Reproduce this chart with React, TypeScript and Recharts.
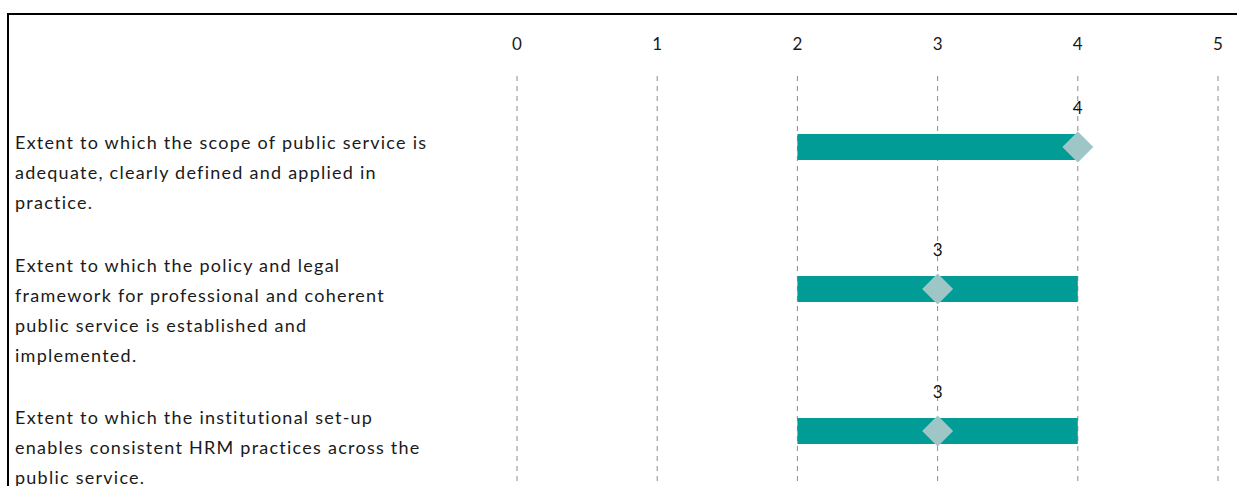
import React from "react";
import { ComposedChart, Bar, Line, XAxis, YAxis, CartesianGrid, LabelList } from "recharts";

const categories = ["scope", "framework", "institutional"];
const categoryLines: string[][] = [
  ["Extent to which the scope of public service is", "adequate, clearly defined and applied in", "practice."],
  ["Extent to which the policy and legal", "framework for professional and coherent", "public service is established and", "implemented."],
  ["Extent to which the institutional set-up", "enables consistent HRM practices across the", "public service."],
];
const rangeLow = [2, 2, 2];
const rangeHigh = [4, 4, 4];
const scores = [4, 3, 3];
const xTicks = [0, 1, 2, 3, 4, 5];

const data = categories.map((c, i) => ({
  name: c,
  range: [rangeLow[i], rangeHigh[i]],
  score: scores[i],
}));

const FONT = "Lato, sans-serif";

const CategoryTick = (props: any) => {
  const { y, payload, index } = props;
  const idx = categories.indexOf(payload.value);
  const lines = categoryLines[idx] || [];
  const lh = 30;
  const i0 = idx >= 0 ? idx : index || 0;
  const start = y + 25 - 4.5 * i0 - ((lines.length - 1) * lh) / 2;
  return (
    <g>
      {lines.map((l, i) => (
        <text key={i} x={6} y={start + i * lh} textAnchor="start" dominantBaseline="central" fontFamily={FONT} fontSize={18} letterSpacing={1.25} fill="#1a1a1a">
          {l}
        </text>
      ))}
    </g>
  );
};

const Diamond = (props: any) => {
  const { cx, cy } = props;
  if (cx == null || cy == null) return null;
  const r = 15.5;
  return <path d={`M${cx},${cy - r} L${cx + r},${cy} L${cx},${cy + r} L${cx - r},${cy} Z`} fill="#9fc6c6" />;
};

const ScoreLabel = (props: any) => {
  const { x, y, value } = props;
  return (
    <text x={x} y={y - 40} textAnchor="middle" dominantBaseline="central" fontFamily={FONT} fontSize={17} fill="#111">
      {value}
    </text>
  );
};

export default function App() {
  return (
    <div style={{ position: "fixed", left: 0, top: 0, width: 1237, height: 486, overflow: "hidden", background: "#fff" }}>
      <div style={{ position: "absolute", left: 7, top: 13, width: 1260, height: 520, borderTop: "2px solid #000", borderLeft: "2px solid #000", background: "#fff" }}>
        <ComposedChart
          width={1240}
          height={487}
          data={data}
          layout="vertical"
          margin={{ top: 0, right: 31, bottom: 0, left: 0 }}
        >
          <CartesianGrid horizontal={false} vertical={true} stroke="#8c8c8c" strokeDasharray="5 5" />
          <XAxis
            type="number"
            orientation="top"
            domain={[0, 5]}
            ticks={xTicks}
            axisLine={false}
            tickLine={false}
            tickSize={0}
            tickMargin={26}
            height={61}
            tick={{ fontFamily: FONT, fontSize: 17, fill: "#1a1a1a" }}
            interval={0}
          />
          <YAxis type="category" dataKey="name" width={508} axisLine={false} tickLine={false} tick={<CategoryTick />} interval={0} />
          <Bar dataKey="range" fill="#009c95" barSize={26} isAnimationActive={false} />
          <Line dataKey="score" stroke="none" dot={<Diamond />} activeDot={false} isAnimationActive={false}>
            <LabelList dataKey="score" content={<ScoreLabel />} />
          </Line>
        </ComposedChart>
      </div>
    </div>
  );
}
